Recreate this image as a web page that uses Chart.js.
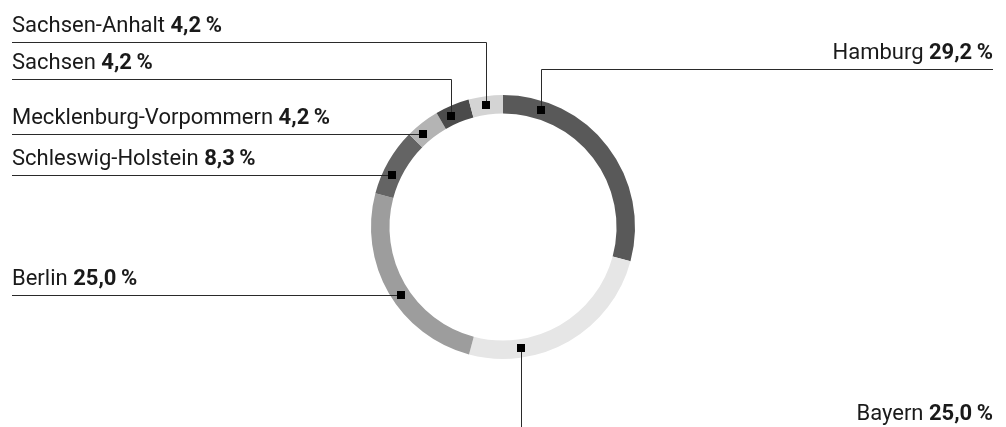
<!DOCTYPE html>
<html lang="de">
<head>
<meta charset="utf-8">
<title>Anteile nach Bundesland</title>
<script src="https://cdn.jsdelivr.net/npm/chart.js@4/dist/chart.umd.min.js"></script>
<style>
  html, body { margin: 0; padding: 0; background: #fff; }
  #wrap { width: 1006px; height: 427px; position: relative; }
</style>
</head>
<body>
<div id="wrap"><canvas id="shareChart"></canvas></div>
<script>
// Daten
const regions = ['Hamburg', 'Bayern', 'Berlin', 'Schleswig-Holstein', 'Mecklenburg-Vorpommern', 'Sachsen', 'Sachsen-Anhalt'];
const shares = [29.2, 25.0, 25.0, 8.3, 4.2, 4.2, 4.2];

const sliceColors = ['#595959', '#e6e6e6', '#9d9d9d', '#646464', '#b4b4b4', '#4b4b4b', '#d4d4d4'];

// label layout: where the marker sits inside its slice and how the leader runs
const labelLayout = [
    { side: 'right', leader: 'v', lineY: 69, frac: 0.17 },
    { side: 'right', leader: 'down', baseY: 420, frac: 0.74 },
    { side: 'left', leader: 'h', frac: 0.46 },
    { side: 'left', leader: 'h', frac: 0.35 },
    { side: 'left', leader: 'h', frac: 0.31 },
    { side: 'left', leader: 'v', lineY: 79, frac: 0.35 },
    { side: 'left', leader: 'v', lineY: 42, frac: 0.47 }
];

const FONT = 'Roboto, "Open Sans", sans-serif';
const SIZE = 22;
const LEFT_X = 12, RIGHT_X = 993;

function fmt(v) {
    return v.toFixed(1).replace('.', ',') + '\u2009%';
}

const leaderPlugin = {
    id: 'leaders',
    afterDatasetsDraw(chart) {
        const ctx = chart.ctx;
        const arcs = chart.getDatasetMeta(0).data;
        ctx.save();
        ctx.lineWidth = 1;
        ctx.strokeStyle = '#2a2a2a';
        const markers = [];
        arcs.forEach((arc, i) => {
            const p = arc.getProps(['x', 'y', 'startAngle', 'endAngle', 'innerRadius', 'outerRadius'], true);
            const lay = labelLayout[i];
            const a = p.startAngle + lay.frac * (p.endAngle - p.startAngle);
            const r = (p.innerRadius + p.outerRadius) / 2;
            const mx = Math.round(p.x + r * Math.cos(a));
            const my = Math.round(p.y + r * Math.sin(a));
            markers.push([mx, my]);

            let baseY;
            ctx.beginPath();
            if (lay.leader === 'h') {
                ctx.moveTo(LEFT_X, my + 0.5);
                ctx.lineTo(mx, my + 0.5);
                baseY = my - 10;
            } else if (lay.leader === 'v') {
                const ly = lay.lineY + 0.5;
                ctx.moveTo(lay.side === 'left' ? LEFT_X : RIGHT_X, ly);
                ctx.lineTo(mx + 0.5, ly);
                ctx.lineTo(mx + 0.5, my);
                baseY = lay.lineY - 10;
            } else {
                ctx.moveTo(mx + 0.5, my);
                ctx.lineTo(mx + 0.5, chart.height);
                baseY = lay.baseY;
            }
            ctx.stroke();

            // label text: name regular + value bold
            const name = regions[i] + ' ';
            const val = fmt(shares[i]);
            ctx.fillStyle = '#1a1a1a';
            ctx.textBaseline = 'alphabetic';
            ctx.textAlign = 'left';
            ctx.font = SIZE + 'px ' + FONT;
            const wName = ctx.measureText(name).width;
            ctx.font = 'bold ' + SIZE + 'px ' + FONT;
            const wVal = ctx.measureText(val).width;
            const x0 = lay.side === 'left' ? LEFT_X : RIGHT_X - wName - wVal;
            ctx.font = SIZE + 'px ' + FONT;
            ctx.fillText(name, x0, baseY);
            ctx.font = 'bold ' + SIZE + 'px ' + FONT;
            ctx.fillText(val, x0 + wName, baseY);
        });
        ctx.fillStyle = '#000';
        markers.forEach(([mx, my]) => ctx.fillRect(mx - 4, my - 4, 8, 8));
        ctx.restore();
    }
};

const ctxEl = document.getElementById('shareChart').getContext('2d');
const shareChart = new Chart(ctxEl, {
    type: 'doughnut',
    data: {
        labels: regions,
        datasets: [{
            data: shares,
            backgroundColor: sliceColors,
            borderWidth: 0
        }]
    },
    options: {
        responsive: true,
        maintainAspectRatio: false,
        animation: false,
        events: [],
        cutout: '86%',
        layout: { padding: { top: 95, bottom: 68, left: 0, right: 0 } },
        plugins: {
            legend: { display: false },
            tooltip: { enabled: false }
        }
    },
    plugins: [leaderPlugin]
});
</script>
</body>
</html>
